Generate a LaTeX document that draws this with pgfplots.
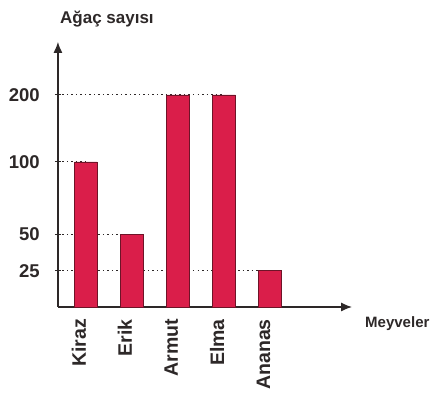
\documentclass[border=0pt]{standalone}
\usepackage{fontspec}
\setmainfont{Liberation Sans}
\usepackage{pgfplots}
\pgfplotsset{compat=1.18}
\usetikzlibrary{arrows.meta}
\definecolor{barfill}{RGB}{218,30,74}
\definecolor{baredge}{RGB}{110,20,40}
\definecolor{axisgray}{RGB}{45,40,40}
\begin{document}
\begin{tikzpicture}
\begin{axis}[
  scale only axis, width=294pt, height=265pt,
  xmin=-0.609, xmax=5.783,
  ymin=0, ymax=279.1,
  y coord trafo/.code={\pgfmathparse{#1<=100 ? #1 : 100+(#1-100)*0.462}},
  axis lines=left,
  axis line style={draw=axisgray, line width=1.3pt, -{Latex[length=11pt,width=9pt]}},
  xtick={0,1,2,3,4},
  xticklabels={Kiraz,Erik,Armut,Elma,Ananas},
  xticklabel style={yshift=-9pt, rotate=90, anchor=base east, inner sep=0pt,
    font=\fontsize{19.5}{22}\selectfont\bfseries, text=axisgray},
  major x tick style={draw=none},
  ytick={25,50,100,200},
  yticklabels={25,50,100,200},
  yticklabel style={anchor=east, inner sep=0pt, xshift=-15pt,
    font=\fontsize{18.5}{22}\selectfont\bfseries, text=axisgray},
  /pgf/number format/assume math mode=true,
  tick align=center, major tick length=6pt,
  major y tick style={draw=axisgray, line width=1pt},
  clip=false,
]
\addplot[axisgray, line width=1.1pt, dash pattern=on 1.5pt off 3pt] coordinates {(-0.609,200) (3,200)};
\addplot[axisgray, line width=1.1pt, dash pattern=on 1.5pt off 3pt] coordinates {(-0.609,100) (0,100)};
\addplot[axisgray, line width=1.1pt, dash pattern=on 1.5pt off 3pt] coordinates {(-0.609,50) (1,50)};
\addplot[axisgray, line width=1.1pt, dash pattern=on 1.5pt off 3pt] coordinates {(-0.609,25) (4,25)};
\addplot[ybar, bar width=22.5pt, fill=barfill, draw=baredge, line width=0.8pt]
  coordinates {(0,100) (1,50) (2,200) (3,200) (4,25)};
\node[anchor=base west, inner sep=0pt, font=\fontsize{17}{20}\selectfont\bfseries, text=axisgray]
  at (axis description cs:0.0068,1.068) {Ağaç sayısı};
\node[anchor=base west, inner sep=0pt, font=\fontsize{15}{18}\selectfont\bfseries, text=axisgray]
  at (axis description cs:1.044,-0.0755) {Meyveler};
\path (axis description cs:-0.197,-0.321) rectangle (axis description cs:1.265,1.158);
\end{axis}
\end{tikzpicture}
\end{document}
